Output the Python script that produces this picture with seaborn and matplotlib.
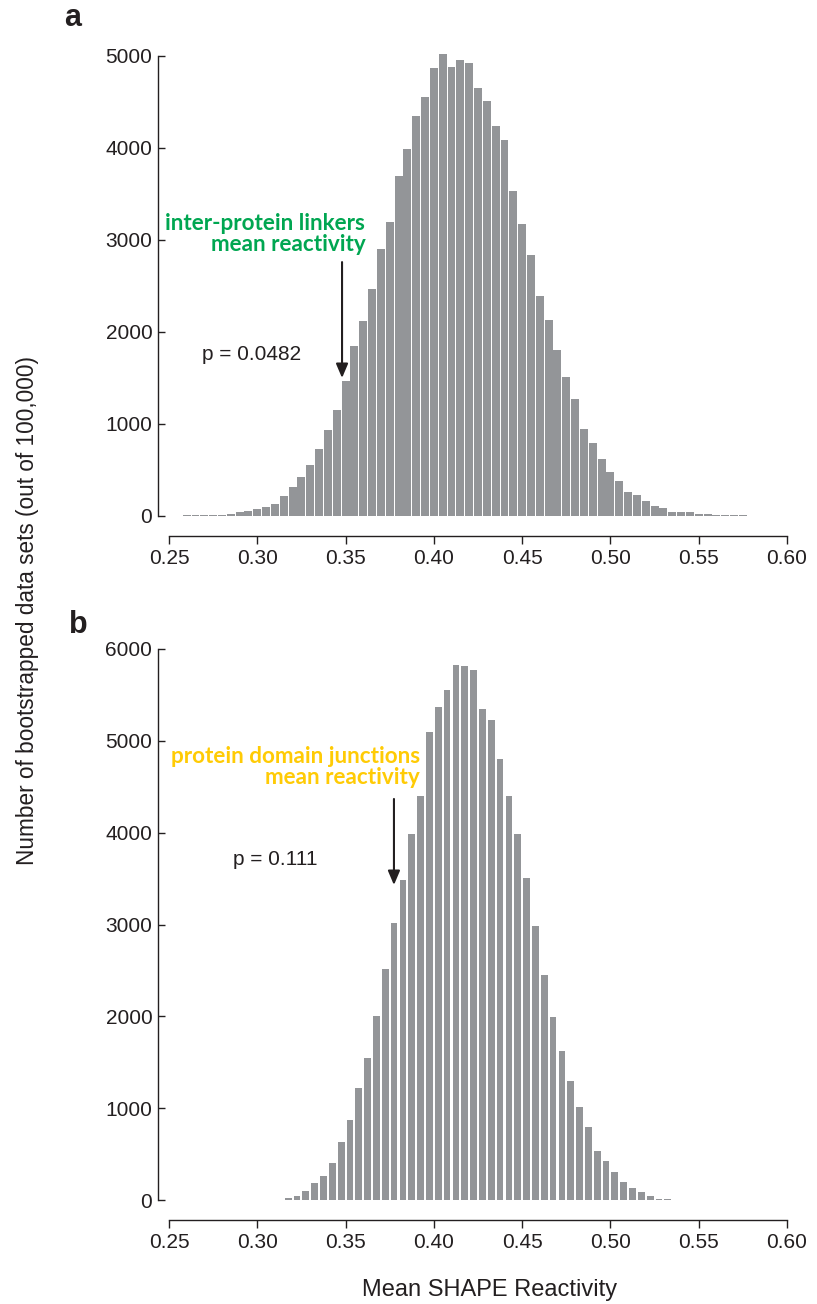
import numpy as np
import pandas as pd
import matplotlib
matplotlib.use("Agg")
import matplotlib.pyplot as plt
import seaborn as sns

# bootstrap histograms, counts (bin width 0.005)
bin_width = 0.005

# panel a: inter-protein linkers, bins centred on 0.260 ... 0.575
start_a = 0.260
counts_a = [10, 10, 11, 11, 12, 20, 45, 50, 72, 94, 130, 213, 311, 420, 550, 724,
            930, 1150, 1465, 1852, 2123, 2464, 2905, 3198, 3697, 3994, 4348,
            4554, 4870, 5022, 4884, 4957, 4924, 4653, 4512, 4240, 4088, 3535,
            3177, 2841, 2396, 2135, 1809, 1516, 1277, 951, 789, 615, 474, 376,
            257, 224, 159, 105, 83, 40, 40, 40, 20, 20, 12, 12, 10, 10]

# panel b: protein domain junctions, bins centred on 0.3175 ... 0.5325
start_b = 0.3175
counts_b = [22, 44, 98, 189, 258, 407, 628, 871, 1216, 1543, 2007, 2515, 3020,
            3481, 3982, 4399, 5096, 5372, 5557, 5826, 5815, 5771, 5350, 5223,
            4802, 4396, 3985, 3506, 2984, 2446, 1993, 1619, 1299, 1009, 795,
            537, 425, 305, 192, 127, 83, 40, 15, 8]

xticks = [0.25, 0.30, 0.35, 0.40, 0.45, 0.50, 0.55, 0.60]
yticks_a = [0, 1000, 2000, 3000, 4000, 5000]
yticks_b = [0, 1000, 2000, 3000, 4000, 5000, 6000]

# annotations: label text/colour/position, arrow x + top + tip, p-value text/position
ann_a = dict(label="inter-protein linkers\nmean reactivity", color="#00A651",
             tx=0.3612, ty=3060, ax=0.348, a0=2760, a1=1500,
             p="p = 0.0482", px=0.2965, py=1750)
ann_b = dict(label="protein domain junctions\nmean reactivity", color="#FFCB05",
             tx=0.3922, ty=4720, ax=0.3774, a0=4367, a1=3430,
             p="p = 0.111", px=0.3103, py=3713)

bar_color = "#939598"

sns.set_style("ticks")
plt.rcParams['font.family'] = ['Liberation Sans', 'DejaVu Sans']
plt.rcParams['axes.edgecolor'] = '#231f20'
plt.rcParams['xtick.color'] = '#231f20'
plt.rcParams['ytick.color'] = '#231f20'
plt.rcParams['text.color'] = '#231f20'

W, H = 817, 1304
fig = plt.figure(figsize=(W / 100, H / 100), dpi=100)

def px_axes(left, right, top, bottom):
    return fig.add_axes([left / W, 1 - bottom / H, (right - left) / W, (bottom - top) / H])

ax_a = px_axes(169, 787, 516 - 5050 * 0.0920, 516)
ax_b = px_axes(169, 787, 649, 1200)

def draw_panel(ax, start, counts, yticks, ymax, shrink, ann):
    centers = np.round(start + bin_width * np.arange(len(counts)), 4)
    df = pd.DataFrame({"x": centers, "n": counts})
    lo = centers[0] - bin_width / 2
    hi = centers[-1] + bin_width / 2
    sns.histplot(data=df, x="x", weights="n", binwidth=bin_width, binrange=(lo, hi),
                 shrink=shrink, color=bar_color, edgecolor="none", alpha=1.0, ax=ax)
    ax.set_xlim(0.25, 0.60)
    ax.set_ylim(0, ymax)
    ax.set_xticks(xticks)
    ax.set_xticklabels([f"{t:.2f}" for t in xticks])
    ax.set_yticks(yticks)
    ax.set_yticklabels([str(t) for t in yticks])
    ax.set_xlabel("")
    ax.set_ylabel("")
    sns.despine(ax=ax)
    # spine offsets are in points (1 pt = 1.39 px at 100 dpi)
    ax.spines['left'].set_position(('outward', 8))
    ax.spines['bottom'].set_position(('outward', 14.5))
    ax.spines['left'].set_bounds(yticks[0], yticks[-1])
    ax.spines['bottom'].set_bounds(xticks[0], xticks[-1])
    for s in ('left', 'bottom'):
        ax.spines[s].set_linewidth(1.0)
    ax.tick_params(axis='y', direction='in', length=5, width=1.0, pad=4, labelsize=15)
    ax.tick_params(axis='x', direction='out', length=5.5, width=1.0, pad=4, labelsize=15)

    ax.text(ann["tx"], ann["ty"], ann["label"], color=ann["color"], ha="right", va="center",
            fontsize=16.2, fontweight="bold", linespacing=1.0,
            family=['Lato', 'DejaVu Sans'])
    ax.annotate("", xy=(ann["ax"], ann["a1"]), xytext=(ann["ax"], ann["a0"]),
                arrowprops=dict(arrowstyle="-|>,head_length=0.85,head_width=0.36",
                                mutation_scale=10, lw=1.5, color="#231f20",
                                shrinkA=0, shrinkB=0))
    ax.text(ann["px"], ann["py"], ann["p"], ha="center", va="center", fontsize=15)

draw_panel(ax_a, start_a, counts_a, yticks_a, 5050, 0.9, ann_a)
draw_panel(ax_b, start_b, counts_b, yticks_b, 6000, 0.76, ann_b)

fig.text(73 / W, 1 - 18 / H, "a", fontsize=22, fontweight="bold", ha="center", va="center")
fig.text(78 / W, 1 - 625 / H, "b", fontsize=22, fontweight="bold", ha="center", va="center")
fig.text(28 / W, 1 - 610 / H, "Number of bootstrapped data sets (out of 100,000)",
         rotation=90, ha="center", va="center", fontsize=16.3)
fig.text(490 / W, 1 - 1290 / H, "Mean SHAPE Reactivity", ha="center", va="center", fontsize=17)

fig.savefig("out.png", dpi=100)
